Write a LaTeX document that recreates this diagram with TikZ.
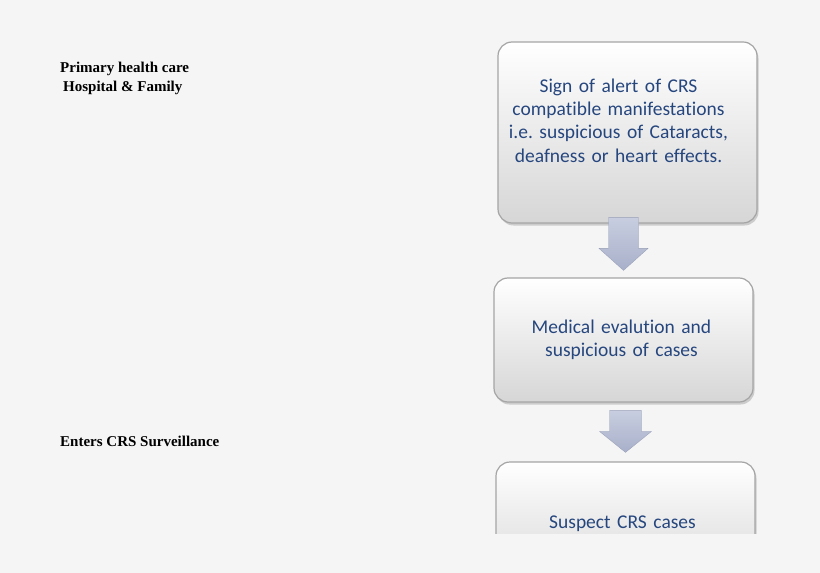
\documentclass[tikz,border=0pt]{standalone}
\usepackage{fontspec}
\setmainfont{Carlito}[Ligatures=NoCommon]
\newfontfamily\timesbf{Liberation Serif}
\usetikzlibrary{calc,shadows}
\definecolor{bgc}{RGB}{245,245,245}
\definecolor{txtblue}{RGB}{38,70,126}
\definecolor{boxedge}{RGB}{165,165,165}
\definecolor{boxbot}{RGB}{214,214,214}
\definecolor{arrtop}{RGB}{200,206,224}
\definecolor{arrbot}{RGB}{168,176,202}
\newcommand\lsh[1]{\hspace*{#1}}
\tikzset{
  flowbox/.style={rectangle, rounded corners=14bp, draw=boxedge, line width=1.2bp,
    top color=white, bottom color=boxbot, minimum width=259bp,
    text width=245bp, align=center, text=txtblue,
    font=\frenchspacing\fontsize{19.5bp}{23.3bp}\selectfont,
    drop shadow={shadow xshift=1.5bp, shadow yshift=-2.5bp, opacity=0.35, fill=gray}},
  sidelabel/.style={anchor=north west, inner sep=0pt, align=left,
    font=\timesbf\bfseries\fontsize{15bp}{19bp}\selectfont},
  blockarrow/.style={top color=arrtop, bottom color=arrbot, draw=arrbot!90!black, line width=0.3bp}
}
\begin{document}
\begin{tikzpicture}[x=1bp,y=-1bp]
\useasboundingbox (0,0) rectangle (820,573);
\fill[bgc] (0,0) rectangle (820,573);

% side labels
\node[sidelabel] (l1) at (60,61.5) {Primary health care\\\hspace{3bp}Hospital \& Family};
\node[sidelabel] (l2) at (60,435.5) {Enters CRS Surveillance};

\path (627.5,132.5) coordinate (c1);
\path (623.5,340) coordinate (c2);
\path (625.5,524) coordinate (c3);

% third box clipped
\begin{scope}
\clip (0,0) rectangle (820,533);
\node[flowbox, minimum height=124bp] (b3) at (c3) {\raisebox{-2bp}{\lsh{-6bp}Suspect CRS cases}};
\end{scope}

\node[flowbox, minimum height=124bp] (b2) at (c2) {\lsh{-4bp}Medical evalution and\\\lsh{-4bp}suspicious of cases};
\node[flowbox, minimum height=181bp] (b1) at (c1) {\lsh{-18bp}Sign of alert of CRS\\\lsh{-18bp}compatible manifestations\\\lsh{-18bp}i.e. suspicious of Cataracts,\\\lsh{-18bp}deafness or heart effects.\par\vspace*{24bp}};

% arrows
\path[blockarrow]
  ($(b1.south -| b2.north)+(-15,-6)$) -- ($(b1.south -| b2.north)+(15,-6)$)
  -- ($(b2.north)+(15,-29)$) -- ($(b2.north)+(24.5,-29)$)
  -- ($(b2.north)+(0,-7)$)
  -- ($(b2.north)+(-24.5,-29)$) -- ($(b2.north)+(-15,-29)$) -- cycle;
\path[blockarrow]
  ($(b2.south -| b3.north)+(-16,8)$) -- ($(b2.south -| b3.north)+(16,8)$)
  -- ($(b3.north)+(16,-30)$) -- ($(b3.north)+(26,-30)$)
  -- ($(b3.north)+(0,-9)$)
  -- ($(b3.north)+(-26,-30)$) -- ($(b3.north)+(-16,-30)$) -- cycle;
\end{tikzpicture}
\end{document}
